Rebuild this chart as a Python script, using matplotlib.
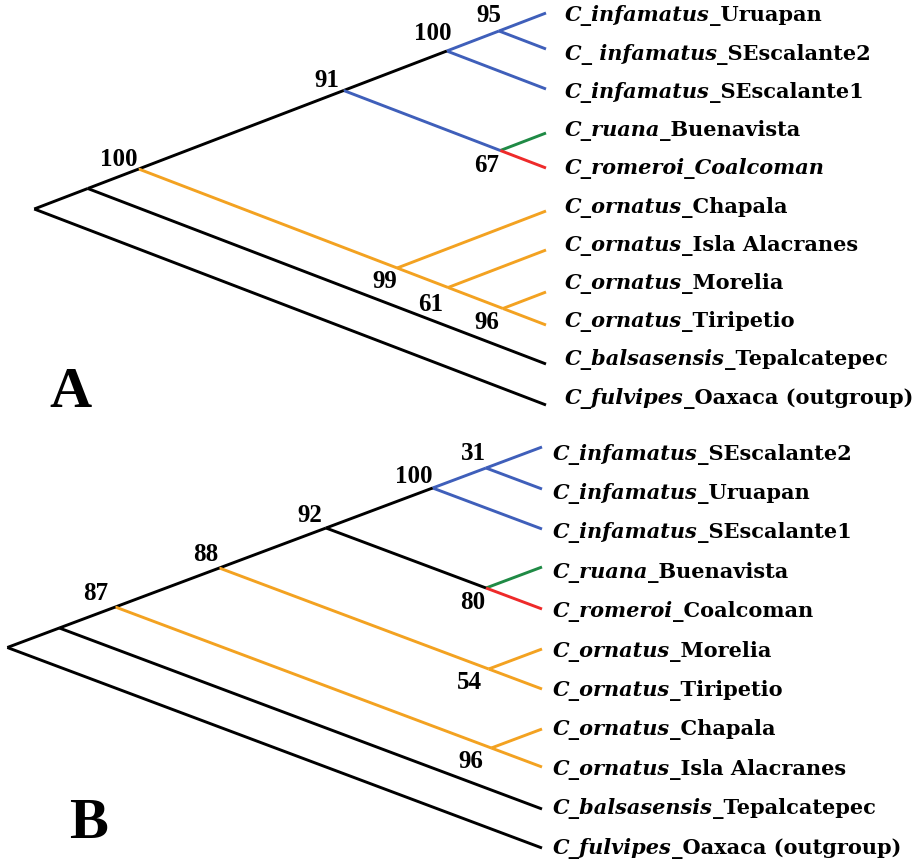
import matplotlib
matplotlib.use("Agg")
import numpy as np
import matplotlib.pyplot as plt
from matplotlib.offsetbox import TextArea, HPacker, AnnotationBbox

# --- data ---
# leaf labels: (italic part, upright part)
labels_a = [("C_infamatus", "_Uruapan"), ("C_ infamatus", "_SEscalante2"),
            ("C_infamatus", "_SEscalante1"), ("C_ruana", "_Buenavista"),
            ("C_romeroi_Coalcoman", ""), ("C_ornatus", "_Chapala"),
            ("C_ornatus", "_Isla Alacranes"), ("C_ornatus", "_Morelia"),
            ("C_ornatus", "_Tiripetio"), ("C_balsasensis", "_Tepalcatepec"),
            ("C_fulvipes", "_Oaxaca (outgroup)")]
labels_b = [("C_infamatus", "_SEscalante2"), ("C_infamatus", "_Uruapan"),
            ("C_infamatus", "_SEscalante1"), ("C_ruana", "_Buenavista"),
            ("C_romeroi", "_Coalcoman"), ("C_ornatus", "_Morelia"),
            ("C_ornatus", "_Tiripetio"), ("C_ornatus", "_Chapala"),
            ("C_ornatus", "_Isla Alacranes"), ("C_balsasensis", "_Tepalcatepec"),
            ("C_fulvipes", "_Oaxaca (outgroup)")]

# leaf tip heights (pixel rows)
tips_a = [13, 49, 89, 133, 168, 211, 250, 292, 325, 364, 405]
tips_b = [447, 489, 529, 567, 609, 649, 689, 729, 767, 809, 848]

# topologies as nested lists of leaf indices
tree_a = [[[[[[0, 1], 2], [3, 4]], [5, [6, [7, 8]]]], 9], 10]
tree_b = [[[[[[[0, 1], 2], [3, 4]], [5, 6]], [7, 8]], 9], 10]

# bootstrap support keyed by (first leaf, last leaf) of the clade
support_a = {(0, 1): 95, (0, 2): 100, (3, 4): 67, (0, 4): 91,
             (7, 8): 96, (6, 8): 61, (5, 8): 99, (0, 8): 100}
support_b = {(0, 1): 31, (0, 2): 100, (3, 4): 80, (0, 4): 92,
             (5, 6): 54, (0, 6): 88, (7, 8): 96, (0, 8): 87}

# --- styling ---
BLUE = "#3f5fba"
ORANGE = "#f3a221"
GREEN = "#1f8a45"
RED = "#ee2a2a"

colors_a = {(0, 1): BLUE, (0, 0): BLUE, (1, 1): BLUE, (2, 2): BLUE, (3, 4): BLUE,
            (3, 3): GREEN, (4, 4): RED,
            (5, 8): ORANGE, (5, 5): ORANGE, (6, 8): ORANGE, (6, 6): ORANGE,
            (7, 8): ORANGE, (7, 7): ORANGE, (8, 8): ORANGE}
colors_b = {(0, 1): BLUE, (0, 0): BLUE, (1, 1): BLUE, (2, 2): BLUE,
            (3, 3): GREEN, (4, 4): RED,
            (5, 6): ORANGE, (5, 5): ORANGE, (6, 6): ORANGE,
            (7, 8): ORANGE, (7, 7): ORANGE, (8, 8): ORANGE}

# label offsets from the node (pixels)
offs_a = {(0, 2): (-14, -17), (0, 1): (-10, -15), (0, 4): (-17, -10), (0, 8): (-20, -10),
          (3, 4): (-14, 15), (5, 8): (-12, 13), (6, 8): (-17, 17), (7, 8): (-16, 14)}
offs_b = {(0, 2): (-19, -12), (0, 1): (-13, -15), (0, 4): (-16, -13), (0, 6): (-14, -14),
          (0, 8): (-20, -14), (3, 4): (-13, 14), (5, 6): (-19, 13), (7, 8): (-21, 13)}

SERIF = "Liberation Serif"
LABEL_FONT = "DejaVu Serif"
LW = 2.1


def draw_clade(ax, node, tips, tip_x, slope, colors, support, offs):
    # returns (span, position); slanted cladogram geometry
    if isinstance(node, int):
        return (node, node), (tip_x, tips[node])
    kids = [draw_clade(ax, c, tips, tip_x, slope, colors, support, offs) for c in node]
    lo = kids[0][0][0]
    hi = kids[-1][0][1]
    y = (tips[lo] + tips[hi]) / 2
    x = tip_x - (tips[hi] - tips[lo]) / (2 * slope)
    for span, (cx, cy) in kids:
        ax.plot([x, cx], [y, cy], color=colors.get(span, "black"), lw=LW,
                solid_capstyle="butt", zorder=2)
    if (lo, hi) in support:
        dx, dy = offs[(lo, hi)]
        ax.text(x + dx, y + dy, str(support[(lo, hi)]), ha="center", va="center",
                fontsize=18, fontweight="bold", family=SERIF, zorder=3)
    return (lo, hi), (x, y)


def draw_labels(ax, labels, text_x, top, bottom):
    rows = np.linspace(top, bottom, len(labels))
    for (it, rm), ty in zip(labels, rows):
        parts = [TextArea(it, textprops=dict(family=LABEL_FONT, fontsize=15,
                                             fontweight="bold", fontstyle="italic"))]
        if rm:
            parts.append(TextArea(rm, textprops=dict(family=LABEL_FONT, fontsize=15,
                                                     fontweight="bold")))
        pack = HPacker(children=parts, align="baseline", pad=0, sep=0)
        ab = AnnotationBbox(pack, (text_x, ty), xycoords="data",
                            box_alignment=(0, 0.5), frameon=False, pad=0)
        ax.add_artist(ab)


fig = plt.figure(figsize=(9.21, 8.63), dpi=100)
ax = fig.add_axes([0, 0, 1, 1])
ax.set_xlim(0, 921)
ax.set_ylim(863, 0)
ax.axis("off")

draw_clade(ax, tree_a, tips_a, 546, 0.383, colors_a, support_a, offs_a)
draw_clade(ax, tree_b, tips_b, 542, 0.375, colors_b, support_b, offs_b)
draw_labels(ax, labels_a, 565, 16, 398)
draw_labels(ax, labels_b, 553, 454, 848)

ax.text(70, 393, "A", ha="center", va="center", fontsize=42, fontweight="bold", family=SERIF)
ax.text(88, 824, "B", ha="center", va="center", fontsize=42, fontweight="bold", family=SERIF)

fig.savefig("out.png", dpi=100)
